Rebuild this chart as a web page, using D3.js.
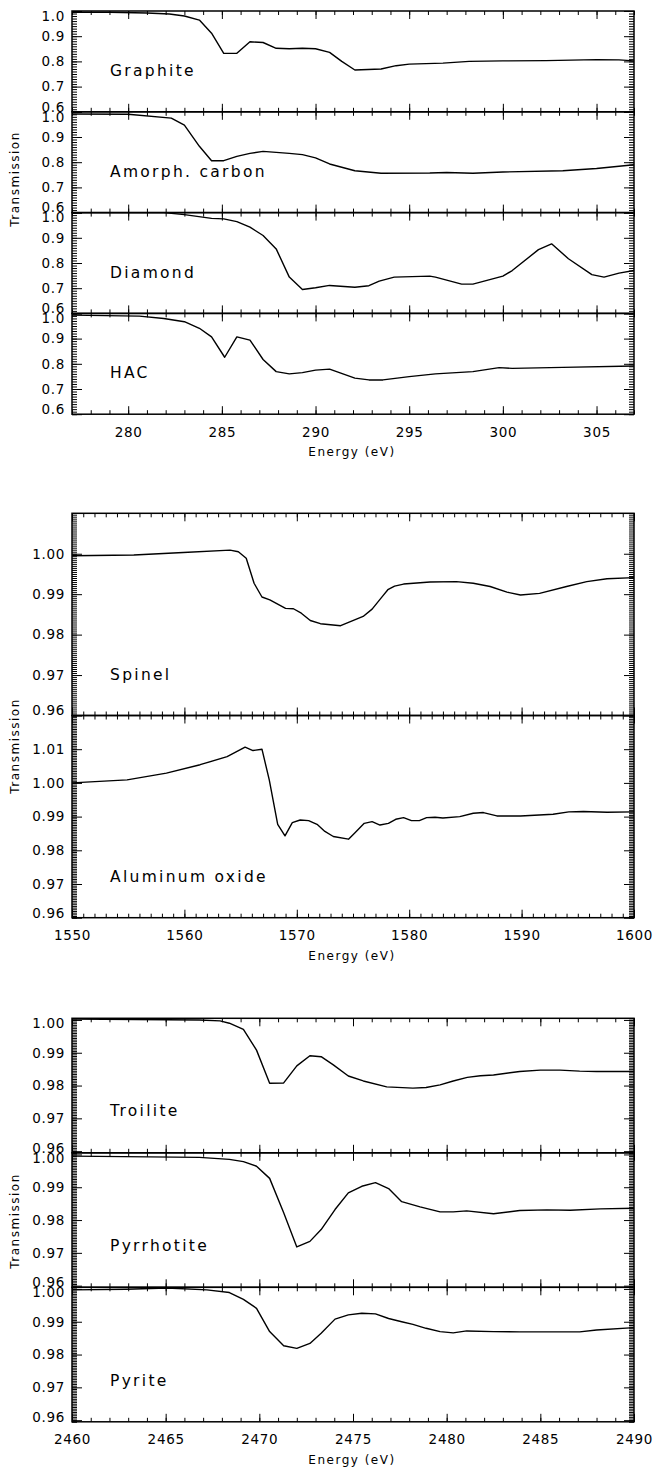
<!DOCTYPE html>
<html>
<head>
<meta charset="utf-8">
<script src="https://cdn.jsdelivr.net/npm/d3@7/dist/d3.min.js"></script>
<style>
  body { margin: 0; background: #fff; }
  svg text { font-family: "DejaVu Sans", sans-serif; fill: #000; }
  .tick text { font-size: 13.5px; letter-spacing: 0.7px; }
  .name { font-size: 15.5px; letter-spacing: 2.3px; }
  .title { font-size: 12px; letter-spacing: 1.5px; }
</style>
</head>
<body>
<svg id="chart" width="656" height="1470"></svg>
<script>
/** Carbon K-edge (eV, transmission) */
const graphiteE = [277, 279, 281, 282.2, 283.0, 283.8, 284.45, 285.1, 285.8, 286.5, 287.2, 287.9, 288.6, 289.3, 290.0, 290.75, 291.4, 292.1, 293.5, 294.3, 295.0, 296.8, 298.2, 300.0, 302.3, 305.0, 306.2, 307];
const graphiteT = [0.995, 0.995, 0.992, 0.988, 0.980, 0.964, 0.912, 0.832, 0.832, 0.878, 0.875, 0.852, 0.850, 0.852, 0.850, 0.836, 0.800, 0.766, 0.770, 0.783, 0.789, 0.793, 0.800, 0.802, 0.803, 0.807, 0.806, 0.802];

const amorphE = [277, 280, 282.3, 283.0, 283.8, 284.45, 285.1, 285.8, 286.5, 287.2, 287.9, 288.6, 289.3, 290.0, 290.75, 292.1, 293.5, 296.1, 297.0, 298.4, 300.0, 303.2, 305.0, 307];
const amorphT = [0.991, 0.990, 0.975, 0.947, 0.863, 0.806, 0.806, 0.823, 0.835, 0.843, 0.839, 0.835, 0.830, 0.817, 0.793, 0.766, 0.756, 0.757, 0.759, 0.756, 0.761, 0.766, 0.775, 0.790];

const diamondE = [277, 280, 281.9, 283.0, 284.45, 285.1, 285.8, 286.5, 287.2, 287.9, 288.6, 289.3, 290.0, 290.75, 292.1, 292.85, 293.4, 294.2, 296.1, 296.4, 297.8, 298.4, 300.0, 300.5, 301.9, 302.6, 303.5, 304.75, 305.4, 306.2, 307];
const diamondT = [1.0, 1.0, 1.0, 0.992, 0.977, 0.975, 0.964, 0.942, 0.909, 0.856, 0.744, 0.695, 0.702, 0.711, 0.704, 0.710, 0.728, 0.744, 0.748, 0.744, 0.716, 0.716, 0.748, 0.770, 0.853, 0.876, 0.817, 0.754, 0.744, 0.760, 0.770];

const hacE = [277, 280.6, 281.9, 283.0, 283.8, 284.45, 285.15, 285.8, 286.5, 287.2, 287.9, 288.6, 289.3, 290.0, 290.75, 292.1, 292.85, 293.6, 295.0, 296.4, 298.4, 299.8, 300.5, 303.2, 307];
const hacT = [0.993, 0.989, 0.980, 0.967, 0.941, 0.907, 0.826, 0.907, 0.894, 0.817, 0.769, 0.760, 0.765, 0.775, 0.779, 0.743, 0.736, 0.736, 0.749, 0.760, 0.769, 0.785, 0.782, 0.786, 0.791];

/** Aluminium K-edge */
const spinelE = [1550, 1555.5, 1559.9, 1564.06, 1564.8, 1565.5, 1566.2, 1566.9, 1567.6, 1569.0, 1569.7, 1570.4, 1571.2, 1572.1, 1573.9, 1575.9, 1576.7, 1577.6, 1578.1, 1578.7, 1579.5, 1581.85, 1584.2, 1585.7, 1587.2, 1588.7, 1589.9, 1591.6, 1594.0, 1595.8, 1597.6, 1600];
const spinelT = [0.9995, 0.9997, 1.0003, 1.0009, 1.0005, 0.9989, 0.9927, 0.9893, 0.9886, 0.9865, 0.9864, 0.9853, 0.9835, 0.9827, 0.9822, 0.9845, 0.9863, 0.9894, 0.9911, 0.9920, 0.9925, 0.9930, 0.9931, 0.9927, 0.9919, 0.9905, 0.9898, 0.9902, 0.9919, 0.9931, 0.9938, 0.9941];

const aloxE = [1550, 1554.9, 1558.4, 1561.4, 1563.8, 1565.4, 1566.1, 1566.9, 1567.55, 1568.3, 1568.95, 1569.6, 1570.3, 1571.05, 1571.8, 1572.5, 1573.25, 1574.6, 1575.2, 1576.0, 1576.7, 1577.4, 1578.15, 1578.8, 1579.5, 1580.2, 1580.9, 1581.55, 1582.3, 1583.0, 1584.5, 1585.7, 1586.6, 1587.8, 1589.9, 1592.8, 1594.2, 1595.5, 1597.6, 1600];
const aloxT = [1.0000, 1.0009, 1.0029, 1.0054, 1.0078, 1.0106, 1.0096, 1.0100, 1.0009, 0.9877, 0.9843, 0.9882, 0.9890, 0.9888, 0.9877, 0.9856, 0.9841, 0.9833, 0.9853, 0.9880, 0.9885, 0.9875, 0.9880, 0.9892, 0.9897, 0.9888, 0.9888, 0.9897, 0.9898, 0.9896, 0.9900, 0.9910, 0.9912, 0.9902, 0.9902, 0.9907, 0.9914, 0.9915, 0.9913, 0.9914];

/** Sulfur K-edge */
const troiliteE = [2460, 2466.8, 2467.9, 2468.4, 2469.15, 2469.85, 2470.55, 2471.3, 2472.0, 2472.7, 2473.3, 2473.95, 2474.75, 2475.55, 2476.8, 2478.2, 2478.9, 2479.65, 2480.35, 2481.1, 2481.8, 2482.5, 2483.9, 2485.0, 2486.05, 2487.1, 2488.0, 2490];
const troiliteT = [1.0003, 1.0000, 0.9997, 0.9990, 0.9971, 0.9908, 0.9807, 0.9808, 0.9860, 0.9891, 0.9888, 0.9863, 0.9829, 0.9814, 0.9796, 0.9792, 0.9794, 0.9802, 0.9814, 0.9825, 0.9830, 0.9832, 0.9843, 0.9847, 0.9847, 0.9844, 0.9843, 0.9843];

const pyrrhotiteE = [2460, 2466.8, 2468.4, 2469.15, 2469.85, 2470.55, 2471.3, 2472.0, 2472.7, 2473.3, 2474.04, 2474.75, 2475.47, 2476.2, 2476.9, 2477.6, 2478.58, 2479.65, 2480.35, 2481.07, 2482.5, 2483.9, 2485.35, 2486.6, 2488.2, 2490];
const pyrrhotiteT = [0.9995, 0.9991, 0.9985, 0.9978, 0.9964, 0.9927, 0.9822, 0.9718, 0.9735, 0.9771, 0.9832, 0.9883, 0.9903, 0.9914, 0.9896, 0.9856, 0.9840, 0.9825, 0.9825, 0.9828, 0.9819, 0.9829, 0.9831, 0.9830, 0.9834, 0.9836];

const pyriteE = [2460, 2462.9, 2465.06, 2467.2, 2468.4, 2469.15, 2469.85, 2470.55, 2471.3, 2472.0, 2472.7, 2473.3, 2474.04, 2474.75, 2475.47, 2476.2, 2476.9, 2477.6, 2478.2, 2478.9, 2479.65, 2480.35, 2481.07, 2482.5, 2483.9, 2487.1, 2488.0, 2490];
const pyriteT = [0.9997, 0.9999, 1.0003, 0.9997, 0.9989, 0.9968, 0.9941, 0.9870, 0.9827, 0.9819, 0.9834, 0.9865, 0.9908, 0.9921, 0.9926, 0.9924, 0.9910, 0.9900, 0.9892, 0.9880, 0.9870, 0.9866, 0.9872, 0.9870, 0.9869, 0.9869, 0.9875, 0.9882];

/** Tick labels */
const carbonXTicks = [280, 285, 290, 295, 300, 305];
const oxideXTicks = [1550, 1560, 1570, 1580, 1590, 1600];
const sulfurXTicks = [2460, 2465, 2470, 2475, 2480, 2485, 2490];
const carbonYTicks = [0.6, 0.7, 0.8, 0.9, 1.0];
const spinelYTicks = [0.96, 0.97, 0.98, 0.99, 1.0];
const aloxYTicks = [0.96, 0.97, 0.98, 0.99, 1.0, 1.01];
const sulfurYTicks = [0.96, 0.97, 0.98, 0.99, 1.0];

/** Layout */
const left = 72, right = 634;
const xTitle = "Energy (eV)", yTitle = "Transmission";

const zip = (xs, ys) => xs.map((x, i) => [x, ys[i]]);

const charts = [
  {
    top: 11, panelH: 100.8, xDomain: [277, 307], xTicks: carbonXTicks, xMinor: 1,
    yFormat: ".1f", yMinor: 0.01, yTitleY: 179,
    panels: [
      { name: "Graphite", data: zip(graphiteE, graphiteT), yDomain: [0.6, 1.0], yTicks: carbonYTicks, nameY: 65 },
      { name: "Amorph. carbon", data: zip(amorphE, amorphT), yDomain: [0.6, 1.0], yTicks: carbonYTicks, nameY: 65 },
      { name: "Diamond", data: zip(diamondE, diamondT), yDomain: [0.6, 1.0], yTicks: carbonYTicks, nameY: 65 },
      { name: "HAC", data: zip(hacE, hacT), yDomain: [0.6, 1.0], yTicks: carbonYTicks, nameY: 65 },
    ],
  },
  {
    top: 513.3, panelH: 202.2, xDomain: [1550, 1600], xTicks: oxideXTicks, xMinor: 1,
    yFormat: ".2f", yMinor: 0.0005, yTitleY: 746,
    panels: [
      { name: "Spinel", data: zip(spinelE, spinelT), yDomain: [0.96, 1.01], yTicks: spinelYTicks, nameY: 167 },
      { name: "Aluminum oxide", data: zip(aloxE, aloxT), yDomain: [0.96, 1.02], yTicks: aloxYTicks, nameY: 166 },
    ],
  },
  {
    top: 1018.3, panelH: 134.5, xDomain: [2460, 2490], xTicks: sulfurXTicks, xMinor: 1,
    yFormat: ".2f", yMinor: 0.0005, yTitleY: 1221,
    panels: [
      { name: "Troilite", data: zip(troiliteE, troiliteT), yDomain: [0.9595, 1.0005], yTicks: sulfurYTicks, nameY: 98 },
      { name: "Pyrrhotite", data: zip(pyrrhotiteE, pyrrhotiteT), yDomain: [0.9595, 1.0005], yTicks: sulfurYTicks, nameY: 98 },
      { name: "Pyrite", data: zip(pyriteE, pyriteT), yDomain: [0.9595, 1.0005], yTicks: sulfurYTicks, nameY: 99 },
    ],
  },
];

const svg = d3.select("#chart");

const stepRange = (lo, hi, step) => {
  const a = Math.ceil(lo / step - 1e-6), b = Math.floor(hi / step + 1e-6);
  return d3.range(a, b + 1).map((k) => +(k * step).toFixed(6));
};

const drawChart = (c, ci) => {
  const xScale = d3.scaleLinear().domain(c.xDomain).range([left, right]);
  const xMinor = stepRange(c.xDomain[0], c.xDomain[1], c.xMinor);
  const n = c.panels.length;

  c.panels.forEach((p, pi) => {
    const top = c.top + pi * c.panelH;
    const bottom = top + c.panelH;
    const yScale = d3.scaleLinear().domain(p.yDomain).range([bottom, top]);
    const yMinor = stepRange(p.yDomain[0], p.yDomain[1], c.yMinor);
    const g = svg.append("g");
    const clipId = `clip-${ci}-${pi}`;

    g.append("clipPath").attr("id", clipId)
      .append("rect").attr("x", left).attr("y", top)
      .attr("width", right - left).attr("height", c.panelH);

    const strip = (sel) => sel.call((s) => s.select(".domain").remove());

    /** x ticks top & bottom */
    g.append("g").attr("transform", `translate(0,${bottom})`)
      .call(d3.axisBottom(xScale).tickValues(xMinor).tickSize(-4).tickFormat("")).call(strip);
    g.append("g").attr("transform", `translate(0,${top})`)
      .call(d3.axisTop(xScale).tickValues(xMinor).tickSize(-4).tickFormat("")).call(strip);
    g.append("g").attr("transform", `translate(0,${top})`)
      .call(d3.axisTop(xScale).tickValues(c.xTicks).tickSize(-8).tickFormat("")).call(strip);
    g.append("g").attr("transform", `translate(0,${bottom})`)
      .call(d3.axisBottom(xScale).tickValues(c.xTicks).tickSize(-8).tickPadding(13)
        .tickFormat(pi === n - 1 ? d3.format("d") : ""))
      .call(strip);

    /** y ticks left & right */
    g.append("g").attr("transform", `translate(${left},0)`)
      .call(d3.axisLeft(yScale).tickValues(yMinor).tickSize(-5).tickFormat("")).call(strip);
    g.append("g").attr("transform", `translate(${right},0)`)
      .call(d3.axisRight(yScale).tickValues(yMinor).tickSize(-5).tickFormat("")).call(strip);
    g.append("g").attr("transform", `translate(${right},0)`)
      .call(d3.axisRight(yScale).tickValues(p.yTicks).tickSize(-10).tickFormat("")).call(strip);
    const yl = g.append("g").attr("transform", `translate(${left},0)`)
      .call(d3.axisLeft(yScale).tickValues(p.yTicks).tickSize(-10).tickPadding(7)
        .tickFormat(d3.format(c.yFormat)))
      .call(strip);

    /** labels at the panel edges sit a little inside */
    yl.selectAll(".tick text").attr("dy", (d) => {
      const py = yScale(d);
      if (py - top < 5) return `${5 - (py - top) + 4.3}px`;
      if (bottom - py < 5) return `${(bottom - py) - 5 + 4.3}px`;
      return "0.32em";
    });

    g.selectAll(".tick line").attr("stroke", "#000").attr("stroke-width", 1);
    g.selectAll(".tick text").attr("fill", "#000");

    /** frame */
    g.append("rect").attr("x", left).attr("y", top)
      .attr("width", right - left).attr("height", c.panelH)
      .attr("fill", "none").attr("stroke", "#000").attr("stroke-width", 1.5);

    /** curve */
    const line = d3.line().x((d) => xScale(d[0])).y((d) => yScale(d[1]));
    g.append("path").datum(p.data)
      .attr("clip-path", `url(#${clipId})`)
      .attr("d", line).attr("fill", "none")
      .attr("stroke", "#000").attr("stroke-width", 1.4)
      .attr("stroke-linejoin", "round");

    g.append("text").attr("class", "name")
      .attr("x", 110).attr("y", top + p.nameY).text(p.name);
  });

  const bottom = c.top + n * c.panelH;
  svg.append("text").attr("class", "title")
    .attr("x", (left + right) / 2 - 1).attr("y", bottom + 42)
    .attr("text-anchor", "middle").text(xTitle);
  svg.append("text").attr("class", "title")
    .attr("transform", `translate(19,${c.yTitleY}) rotate(-90)`)
    .attr("text-anchor", "middle").text(yTitle);
};

charts.forEach(drawChart);
</script>
</body>
</html>
